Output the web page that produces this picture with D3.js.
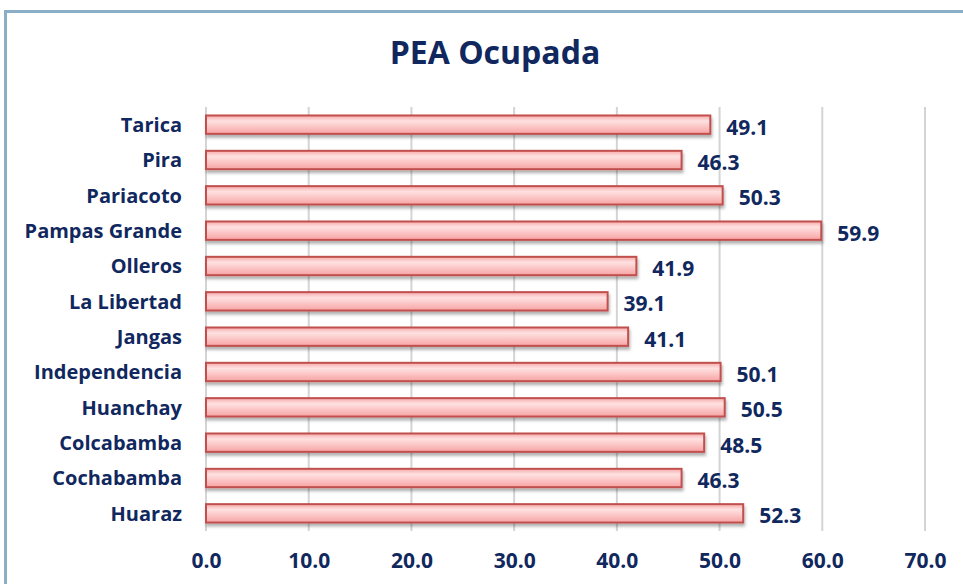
<!DOCTYPE html>
<html>
<head>
<meta charset="utf-8">
<script src="https://cdn.jsdelivr.net/npm/d3@7"></script>
<style>
  body { margin: 0; background: #fff; }
  svg { display: block; }
  text { font-family: "Open Sans", Lato, sans-serif; font-weight: bold; fill: #10285e; }
</style>
</head>
<body>
<svg id="chart" width="963" height="584"></svg>
<script>
// chart data, top to bottom as shown
var categories = ["Tarica", "Pira", "Pariacoto", "Pampas Grande", "Olleros", "La Libertad",
  "Jangas", "Independencia", "Huanchay", "Colcabamba", "Cochabamba", "Huaraz"];
var values = [49.1, 46.3, 50.3, 59.9, 41.9, 39.1, 41.1, 50.1, 50.5, 48.5, 46.3, 52.3];
var tickValues = [0, 10, 20, 30, 40, 50, 60, 70];
var title = "PEA Ocupada";

var svg = d3.select("#chart");
var margin = { top: 107, left: 206, right: 38, bottom: 53 };
var width = 963, height = 584;

// outer frame
svg.append("rect")
  .attr("x", 5.5).attr("y", 11.5)
  .attr("width", 980).attr("height", 600)
  .attr("fill", "none")
  .attr("stroke", "#8aaec6")
  .attr("stroke-width", 3);

var defs = svg.append("defs");
var grad = defs.append("linearGradient")
  .attr("id", "barFill")
  .attr("x1", 0).attr("y1", 0).attr("x2", 0).attr("y2", 1);
grad.append("stop").attr("offset", "0%").attr("stop-color", "#f6a9a9");
grad.append("stop").attr("offset", "30%").attr("stop-color", "#ffe1e1");
grad.append("stop").attr("offset", "100%").attr("stop-color", "#f7a3a3");

var shadow = defs.append("filter").attr("id", "shadow")
  .attr("x", "-5%").attr("y", "-30%").attr("width", "110%").attr("height", "180%");
shadow.append("feDropShadow")
  .attr("dx", 1).attr("dy", 3).attr("stdDeviation", 1.5)
  .attr("flood-color", "#000").attr("flood-opacity", 0.3);

var x = d3.scaleLinear().domain([0, 70]).range([margin.left, width - margin.right]);
var y = d3.scaleBand().domain(categories)
  .range([margin.top, height - margin.bottom])
  .paddingInner(0.48).paddingOuter(0.24);

// title
svg.append("text")
  .attr("x", 495).attr("y", 64)
  .attr("text-anchor", "middle")
  .style("font-size", "32px")
  .text(title);

// vertical gridlines
svg.append("g").selectAll("line")
  .data(tickValues)
  .join("line")
  .attr("x1", function (d) { return x(d); })
  .attr("x2", function (d) { return x(d); })
  .attr("y1", margin.top)
  .attr("y2", height - margin.bottom)
  .attr("stroke", "#d4d4d4")
  .attr("stroke-width", 2);

// x axis labels
var xAxis = d3.axisBottom(x)
  .tickValues(tickValues)
  .tickFormat(d3.format(".1f"))
  .tickSize(0)
  .tickPadding(0);
var gx = svg.append("g")
  .attr("transform", "translate(0,553)")
  .call(xAxis);
gx.select(".domain").remove();
gx.selectAll("text")
  .style("font-size", "21px")
  .attr("fill", "#10285e");

// y axis labels
var yAxis = d3.axisLeft(y).tickSize(0).tickPadding(24);
var gy = svg.append("g")
  .attr("transform", "translate(" + margin.left + ",1)")
  .call(yAxis);
gy.select(".domain").remove();
gy.selectAll("text")
  .style("font-size", "20px")
  .attr("fill", "#10285e");

// bars
svg.append("g").selectAll("rect")
  .data(values)
  .join("rect")
  .attr("x", x(0))
  .attr("y", function (d, i) { return y(categories[i]); })
  .attr("width", function (d) { return x(d) - x(0); })
  .attr("height", y.bandwidth())
  .attr("fill", "url(#barFill)")
  .attr("stroke", "#c0504d")
  .attr("stroke-width", 2)
  .attr("filter", "url(#shadow)");

// value labels
svg.append("g").selectAll("text")
  .data(values)
  .join("text")
  .attr("x", function (d) { return x(d) + 16; })
  .attr("y", function (d, i) { return y(categories[i]) + y.bandwidth() / 2 + 2.5; })
  .attr("dy", "0.35em")
  .style("font-size", "21px")
  .text(function (d) { return d3.format(".1f")(d); });
</script>
</body>
</html>
